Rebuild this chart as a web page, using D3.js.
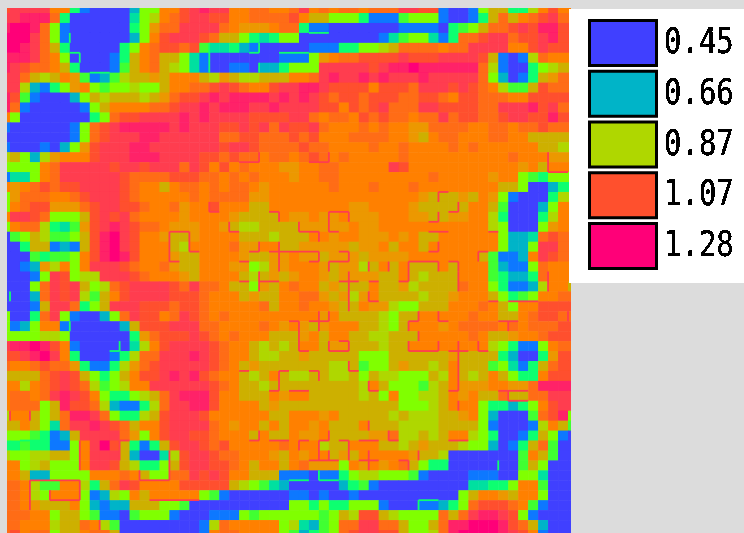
<!DOCTYPE html>
<html lang="en">
<head>
  <meta charset="UTF-8">
  <title>Heat map</title>
  <script src="https://d3js.org/d3.v7.min.js"></script>
  <style>
    html, body { margin: 0; padding: 0; background: #dcdcdc; overflow: hidden; }
    svg { display: block; }
    .legend-label { font-family: "DejaVu Sans Mono", monospace; font-size: 29px; fill: #000; }
  </style>
</head>
<body>
  <svg width="744" height="533"></svg>

  <script>
    // level codes used in the grid rows, their values and colours
    const levelCodes = "abcdefghijklmnop";
    const levelValues = [0.45, 0.55, 0.66, 0.70, 0.74, 0.78, 0.82, 0.87, 0.91, 0.95, 1.00, 1.03, 1.07, 1.14, 1.21, 1.28];
    const levelColors = ["#4040ff", "#0a78ff", "#00b4c8", "#00e0a0", "#10ff70", "#40ff30", "#80ff00", "#afd700",
      "#cdb000", "#ec9800", "#ff8000", "#ff6c18", "#ff502d", "#ff3c50", "#ff2068", "#ff0078"];

    const legendValues = [0.45, 0.66, 0.87, 1.07, 1.28];

    // one string per grid row, one level code per column
    const gridRows = [
      "mnnnnkkebaaaacggkkmnonnkkllkklnklkllklllnnmmbaabgiieehkmkk",
      "nnoooleaaaaaadghklmnnmmkkllllmkiigggebbbfgggbaabeiliklmnll",
      "oppolgbaaaaaaegjllnnnnlkjjjkllebbaaaaaaabbbbaefgillmnmoomm",
      "pppnlgbaaaaaacgkmnnnmliigedeggaaaaaaaabdfggdbellmnnlmmnomm",
      "pponlieaaaaaegklmmlmfddecbaaaaabbbeegghillllkllnnnnkkmnmmm",
      "ooonlkgaaaabeikliigdbaaaaaaabbbgjkllmmmmnmmmnnnnmibabhlkkk",
      "onmllkieaaabfiklihgdbaabbaccegggnnnnnmnoopoooooolhbaaeghii",
      "nnlihikjfbcfhiijikkkihjihhiiikklnonnononnnonnnnnlgcabeijll",
      "nnhcbegjkgfgghggikkllmnmlkkmnnoonmmmmkmmmlnnnmnmlkhffimlll",
      "omfbaaacgihiiihijlmmnonoooonononmlmmlmmmllmmlkmmlllkkmmmmm",
      "olbaaaaabgikkkkllmnnonooonnonnnnmmkmlmnlllnnmmmmllnnnomnll",
      "kgaaaaaaaeglmmnnnnononnnnmmmmnnlkllkmlmllkllnlmmllmnnmmomm",
      "baaaaaabglmnooooonon" + "nnmmnmnlnmmnlkkklkl" + "kkjjllllkkllkllmll" + "l",
      "aaaaaaabglmnnnoonnnn" + "nnllmmlllmlmkkkllll" + "kkjikllkkkllkkiiii" + "i",
      "baaabacgjmnnnoonnnnn" + "nnmnnmllllmllkkkklk" + "klkkkklklkkkkkkiih" + "h",
      "higchjkkkmnnnooonnnn" + "mmlmllkllklmlklkkkk" + "klkkkkkkkkkklkkkjj" + "j",
      "ggggklnnnnnmnnmnnnln" + "mkmklkkkjjkkllkkkkk" + "nmkkkkkkkkkkkjkikk" + "k",
      "bddgklnnnnnnmllllmmm" + "llklklkkkjkkllkkkkk" + "kkkklkkkkkjkkgfegg" + "g",
      "kjklmlmmnnnnmlkkikll" + "klkllkjkkkkkklkkklk" + "kklkkkkkkkkiigaace" + "e",
      "gjlllkklmnnnmlkkkkkl" + "klllljjkkkkkkkkkkkk" + "kkkjiiijikjgbaaaeh" + "h",
      "gklmmjjjlmnnmmlkkljk" + "kmkkkiikkkkkkkkjjkk" + "kkjiiiiikkifaaacgk" + "k",
      "knnmlgggimnmnlkkkkjk" + "kkkjiiiikjjkjjkjjjk" + "kkjjiijjkkheaaaehk" + "k",
      "gkllhedfjmnonmllkjjj" + "kkjihhiiiijjjjjkjjk" + "kkkkkkkkkkhgaaagjk" + "k",
      "afgihffgimopnmkkjiij" + "kkkkiiihiiikkjkkjjj" + "kjkiikkkkkkgccdlml" + "l",
      "aaeiibcbimopnmkkkihk" + "kkkljjkkiijjjjjijjk" + "ikkikkkkkkkgccgnnl" + "l",
      "aaafeffgkmopomkkkjii" + "kkkkjiijjkjjijjjijj" + "jjkkkkkkkifbbcknml" + "l",
      "aabcjhkgknnnmlkkljii" + "kkkjjghjjkkkjijjhik" + "ikiiikikkkfcbbglkk" + "k",
      "aaabgnmghhnnnmlkkkji" + "kkkkihijijkkjijjjji" + "ikihiiikkkfeccelkk" + "k",
      "aaaglnmnighlmnnnnmln" + "llkiigjiklkkijiiiki" + "ijhiiiilkkgebbchkk" + "i",
      "aaaclnmnhfikmnnnnmmm" + "lkkkijiikklljijhjki" + "iiihiijkkkigefgkkl" + "l",
      "aaabinnleginnnmmmlmm" + "lkkkkklikklkkjiikjj" + "hggiiikkklkigkkmmm" + "m",
      "gaaelngbaacglnmmklnm" + "lklkkkkkkkkkjkiiiih" + "giikkkkklkkiiklmml" + "l",
      "gbcgkkbaaaaacimmmnnn" + "llkkkklkjkjijkkkiih" + "gikkkjkllllklklllm" + "m",
      "gggghhgaaaaaaejlmmmn" + "mlklkkkiiijkikkiihh" + "iiikkkkklkiijkklmm" + "m",
      "noopomkbaaaaadhkmnnn" + "nmlkkihihikkijjiiih" + "iikkkkkkkkhgebbgkl" + "l",
      "mmnopnkeaaabehllnnno" + "nmlkkihhiijiiiiiggg" + "iiiiiijiiiiecaaejm" + "m",
      "lkklmlljebbehjlmnnnn" + "nmlkijiiiiiiihhifgg" + "ijiihikiiifgdbeilm" + "m",
      "iiiilmnmigegikmmnono" + "mlkkihikihhiihhigih" + "hgggihkihikigeekmm" + "m",
      "kkhklmnmlhfghkknnnnn" + "nmlkiihiiiiiiiiihki" + "gggfhikjjjkkjjlooo" + "o",
      "kllklnonmkgeeghilnoo" + "omkkiiikjkkiiiiihig" + "kgghhikjkiiliillnn" + "n",
      "klllgiommlhcbbehlnno" + "omkkkkijiiiiiiiiiii" + "iggghikkkgeecegkmn" + "n",
      "hkkigiloonlgeehimnnnmkkkkkkii" + "kkkjkiiiiihihhhiijkgcaaaflmog",
      "iikigdlnnonmlikkmnnnnlkjkkiki" + "kkjkiiikiiihhhhiiiigbaaabhkif",
      "gggfebcinnnnljgkmnnmmlkkkikii" + "kjjkiiiijjlhhihikkhgeaabeigba",
      "eefeebbgknpmiebeimnnmlmkkkkkl" + "kkkhiikkkiihijiiihggcabeilfaa",
      "hgghhiigknnnicaadhmnnmllkkkji" + "kjkkijikkkkkjiihaaaaaaafkifaa",
      "kkghigggknnmiheegimnnmmlkikki" + "kljjjgkjkjkligeeaaaaaaafigaaa",
      "kkiccggggkkklkiggllnmnmkkiiib" + "bbabbeghhgggfbaaaabbbaaggdaaa",
      "llkhffkkheilnmkkkkmmmmmihgfdc" + "aaaaacefbaaaaaaaaaddeegkkfaaa",
      "llkhgkkkgbchgkikkkkkgfbaaaaaa" + "bbabaabaaaaaaaaaagikkjikkgaaa",
      "llkjiiikgcbcciiiggfaaaaaaaaaa" + "ggegeegggbaaabbceglmmmlkfbaaa",
      "lllkkgiigfbbafgggbaaabbbgfggg" + "gggfgihmmihggggliln" + "oonmgbaaaa",
      "llkkkhiilkhfaaaaaaaabhlkkkkkg" + "hdcfgllnnlliggiloopppomlicaaa",
      "lmkllgiiklliaaaaaaaabkllkkkkg" + "fcefglmnnmmigghlopppponmkbaaa"
    ];

    // thin red seams between cells: [col0, row0, col1, row1] in cell edges
    const redSeams = [
      [21,20,21,21],[21,21,22,21],[23,22,23,23],[23,23,24,23],[24,16,26,16],[26,15,26,16],[31,16,33,16],[33,15,33,16],
      [27,21,28,21],[28,21,28,22],[30,22,30,23],[30,23,32,23],[32,23,32,24],[33,21,33,23],[33,21,35,21],[35,21,35,22],
      [33,23,34,23],[26,24,26,25],[25,25,26,25],[28,24,28,27],[27,25,32,25],[32,25,32,26],[31,26,32,26],[35,25,35,26],
      [34,25,35,25],[33,26,35,26],[33,26,33,27],[24,26,25,26],[37,26,37,27],[39,26,39,27],
      [17,23,17,26],[17,23,19,23],[19,23,19,25],[19,25,20,25],[17,26,18,26],
      [44,19,45,19],[44,19,44,20],[46,20,46,21],[45,21,46,21],[43,23,45,23],[44,21,44,22],[43,22,44,22],[44,24,44,25],
      [43,25,44,25],[49,23,50,23],[48,25,49,25],[48,25,48,26],[41,26,41,28],[41,26,44,26],[44,26,44,27],[46,26,46,27],
      [45,26,46,26],[55,17,57,17],[55,15,55,17],
      [24,28,25,28],[26,27,26,29],[26,28,28,28],[35,27,35,31],[34,28,36,28],[37,29,37,30],[37,30,38,30],[37,28,38,28],
      [29,32,30,32],[30,32,30,35],[30,35,31,35],[32,31,32,33],[31,32,33,32],[33,31,33,32],[33,34,33,35],[33,35,35,35],
      [35,34,35,35],[34,34,35,34],[35,36,35,37],[35,37,36,37],[24,37,25,37],[28,37,28,39],[28,37,29,37],[27,39,28,39],
      [31,37,32,37],[32,37,32,38],[29,39,31,39],[37,38,37,39],[37,39,38,39],
      [40,28,41,28],[46,27,46,29],[55,27,55,29],[49,30,50,30],[51,30,54,30],[42,31,42,32],[41,32,42,32],[41,32,41,33],
      [44,31,44,32],[44,32,45,32],[50,32,52,32],[51,32,51,33],[57,31,57,32],[42,33,42,34],[41,34,41,35],[41,35,44,35],
      [44,34,44,35],[46,34,46,39],[45,35,47,35],[48,34,48,35],[48,35,49,35],[51,39,51,40],[50,39,53,39],[45,39,46,39],
      [46,40,46,41],[51,40,53,40],
      [37,42,37,43],[33,43,33,44],[36,44,38,44],[39,43,39,44],[39,44,40,44],[30,44,31,44],[30,44,30,45],[32,44,33,44],
      [32,44,32,46],[34,44,35,44],[35,44,35,46],[33,45,33,46],[31,46,34,46],[37,45,37,47],[36,46,38,46],[41,46,41,47],
      [40,46,41,46],[42,45,42,46],[45,44,47,44],
      [1,41,1,42],[3,41,3,42],[3,48,8,48],[8,48,8,50],[5,50,8,50],[5,49,5,50],[3,48,3,51],[8,44,8,47],[12,44,12,46],
      [12,44,13,44],[17,45,17,48],[14,48,17,48],[14,47,14,48],[10,52,10,53],[25,44,26,44],[26,43,26,44],[27,44,29,44],
      [15,50,20,50]
    ];

    // thin green seams along the edges of the blue patches
    const greenSeams = [
      [7,5,8,5],[8,5,8,6],[9,7,11,7],[7,3,7,4],[21,4,21,7],[28,5,31,5],[26,6,26,7],[25,5,26,5],[26,4,26,5],[31,3,32,3],
      [32,3,33,3],[1,29,1,30],[7,32,7,33],[11,35,12,35],[12,34,12,35],[2,44,4,44],[43,46,45,46],[50,46,50,47],
      [35,48,35,49],[42,50,44,50],[42,50,42,51],[32,47,32,48],[29,48,31,48],[32,48,34,48]
    ];

    const cellValues = gridRows.flatMap((r, row) =>
      Array.from(r).map((c, col) => ({ col, row, value: levelValues[levelCodes.indexOf(c)] })));

    const svg = d3.select("svg");

    const x = d3.scaleLinear().domain([1, 57]).range([10, 568]);
    const y = d3.scaleLinear().domain([1, 53]).range([13, 530]);
    const color = d3.scaleLinear().domain(levelValues).range(levelColors);

    const defs = svg.append("defs");
    defs.append("clipPath").attr("id", "plot-clip")
      .append("rect").attr("x", 7).attr("y", 8).attr("width", 564).attr("height", 525);
    defs.append("filter").attr("id", "soften").attr("x", "-2%").attr("y", "-2%").attr("width", "104%").attr("height", "104%")
      .append("feGaussianBlur").attr("stdDeviation", 0.5);
    const crisp = defs.append("filter").attr("id", "aliased");
    crisp.append("feComponentTransfer").append("feFuncA").attr("type", "discrete").attr("tableValues", "0 1 1 1");

    // heat map
    const plot = svg.append("g").attr("clip-path", "url(#plot-clip)")
      .append("g").attr("filter", "url(#soften)");

    plot.selectAll(".cell")
      .data(cellValues)
      .enter()
      .append("rect")
      .attr("class", "cell")
      .attr("x", d => x(d.col))
      .attr("y", d => y(d.row))
      .attr("width", x(1) - x(0) + 0.5)
      .attr("height", y(1) - y(0) + 0.5)
      .attr("fill", d => color(d.value));

    function drawSeams(list, stroke) {
      plot.selectAll(null)
        .data(list)
        .enter()
        .append("line")
        .attr("x1", d => x(d[0]))
        .attr("y1", d => y(d[1]))
        .attr("x2", d => x(d[2]))
        .attr("y2", d => y(d[3]))
        .attr("stroke", stroke)
        .attr("stroke-width", 1.8);
    }
    drawSeams(redSeams, color(1.14));
    drawSeams(greenSeams, color(0.74));

    // legend
    svg.append("rect")
      .attr("x", 569).attr("y", 9).attr("width", 175).attr("height", 274)
      .attr("fill", "#fff");

    const legendY = d3.scalePoint().domain(legendValues).range([19, 222]);

    const legend = svg.selectAll(".legend-item")
      .data(legendValues)
      .enter()
      .append("g")
      .attr("class", "legend-item")
      .attr("transform", d => `translate(588,${legendY(d)})`);

    legend.append("rect")
      .attr("x", 1.5).attr("y", 1.5).attr("width", 67).attr("height", 45)
      .attr("fill", d => color(d))
      .attr("stroke", "#000").attr("stroke-width", 3);

    legend.append("text")
      .attr("class", "legend-label")
      .attr("filter", "url(#aliased)")
      .attr("transform", "translate(76,34) scale(1,1.25)")
      .text(d => d.toFixed(2));

    // every row has to span the full grid
    const shortRows = gridRows.map((r, i) => [i, r.length]).filter(d => d[1] !== 58);
    if (shortRows.length) throw new Error("bad row lengths " + JSON.stringify(shortRows));
  </script>
</body>
</html>
